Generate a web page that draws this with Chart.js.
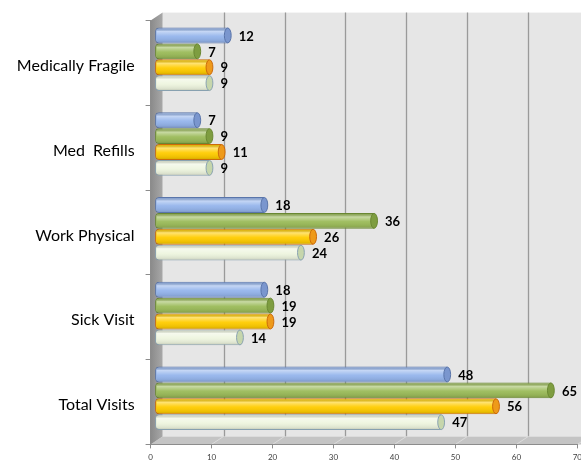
<!DOCTYPE html>
<html><head><meta charset="utf-8">
<script src="https://cdn.jsdelivr.net/npm/chart.js@4.4.1/dist/chart.umd.min.js"></script>
<style>
html,body{margin:0;padding:0;overflow:hidden;background:#fff;width:581px;height:465px}
#wrap{width:586px;height:465px;position:relative}
</style>
</head><body><div id="wrap"><canvas id="c" width="586" height="465"></canvas></div>
<script>
const categories = ['Medically Fragile', 'Med  Refills', 'Work Physical', 'Sick Visit', 'Total Visits'];
const seriesBlue  = [12, 7, 18, 18, 48];
const seriesGreen = [7, 9, 36, 19, 65];
const seriesGold  = [9, 11, 26, 19, 56];
const seriesPale  = [9, 9, 24, 14, 47];
const xTickValues = [0, 10, 20, 30, 40, 50, 60, 70];

const DX = 12, DY = 8;      // 3D depth of walls
const SX = 4, SY = -3.7;    // bars sit mid-depth

const styles = [
  {fill:'#95B5EC', border:'#5A75AA', cap:'#7A96CE'},
  {fill:'#9BBB59', border:'#6A8832', cap:'#7E9D40'},
  {fill:'#FFCC00', border:'#CC6A0A', cap:'#EE9A1A'},
  {fill:'#EEF5DF', border:'#8AA3B2', cap:'#C6D6AC'}
];

const walls = {
  id: 'walls',
  beforeDraw(chart) {
    const {ctx, chartArea: a, scales: {x}} = chart;
    const W = chart.width;
    ctx.save();
    ctx.fillStyle = '#e6e6e6';
    ctx.fillRect(a.left + DX, a.top - DY, W - (a.left + DX), a.bottom - a.top);
    ctx.strokeStyle = '#9a9a9a';
    ctx.lineWidth = 1.3;
    xTickValues.forEach(v => {
      if (v === 0) return;
      const px = Math.round(x.getPixelForValue(v) + DX) + 0.5;
      ctx.beginPath(); ctx.moveTo(px, a.top - DY); ctx.lineTo(px, a.bottom - DY); ctx.stroke();
    });
    ctx.fillStyle = '#c4c4c4';
    ctx.beginPath();
    ctx.moveTo(a.left, a.bottom); ctx.lineTo(a.left + DX, a.bottom - DY);
    ctx.lineTo(W, a.bottom - DY); ctx.lineTo(W, a.bottom); ctx.closePath(); ctx.fill();
    ctx.strokeStyle = '#dcdcdc'; ctx.lineWidth = 1;
    xTickValues.forEach(v => {
      if (v === 0) return;
      const px = x.getPixelForValue(v);
      ctx.beginPath(); ctx.moveTo(px, a.bottom); ctx.lineTo(px + DX, a.bottom - DY); ctx.stroke();
    });
    const g = ctx.createLinearGradient(a.left, 0, a.left + DX, 0);
    g.addColorStop(0, '#8a8a8a'); g.addColorStop(1, '#a8a8a8');
    ctx.fillStyle = g;
    ctx.beginPath();
    ctx.moveTo(a.left, a.top); ctx.lineTo(a.left + DX, a.top - DY);
    ctx.lineTo(a.left + DX, a.bottom - DY); ctx.lineTo(a.left, a.bottom); ctx.closePath(); ctx.fill();
    ctx.restore();
  }
};

const cylinders = {
  id: 'cylinders',
  beforeDatasetsDraw(chart) { chart.ctx.save(); chart.ctx.translate(SX, SY); },
  afterDatasetsDraw(chart) {
    const ctx = chart.ctx;
    chart.data.datasets.forEach((ds, di) => {
      const meta = chart.getDatasetMeta(di);
      const st = styles[di];
      meta.data.forEach((el, i) => {
        const left = Math.min(el.base, el.x), right = Math.max(el.base, el.x);
        const h = el.height, top = el.y - h / 2;
        const g = ctx.createLinearGradient(0, top, 0, top + h);
        g.addColorStop(0, 'rgba(0,0,0,0.06)');
        g.addColorStop(0.25, 'rgba(255,255,255,0.45)');
        g.addColorStop(0.55, 'rgba(255,255,255,0.05)');
        g.addColorStop(0.85, 'rgba(0,0,0,0.08)');
        g.addColorStop(1, 'rgba(0,0,0,0.22)');
        ctx.fillStyle = g;
        ctx.fillRect(left + 1.5, top + 1, right - left - 2, h - 2);
        ctx.beginPath();
        ctx.ellipse(right, el.y, 3.4, h / 2 - 0.5, 0, 0, Math.PI * 2);
        ctx.fillStyle = st.cap; ctx.fill();
        ctx.strokeStyle = st.border; ctx.lineWidth = 1; ctx.stroke();
        ctx.fillStyle = '#000';
        ctx.font = 'bold 13px Lato, "DejaVu Sans", sans-serif';
        ctx.textAlign = 'left'; ctx.textBaseline = 'middle';
        ctx.fillText(String(ds.data[i]), right + 11, el.y + 1);
      });
    });
    ctx.restore();
  }
};

const allSeries = [seriesBlue, seriesGreen, seriesGold, seriesPale];
const names = ['Series 1', 'Series 2', 'Series 3', 'Series 4'];

new Chart(document.getElementById('c'), {
  type: 'bar',
  data: {
    labels: categories,
    datasets: allSeries.map((d, i) => ({
      label: names[i],
      data: d,
      backgroundColor: styles[i].fill,
      borderColor: styles[i].border,
      borderWidth: 1,
      borderSkipped: false,
      borderRadius: {topLeft: 4, bottomLeft: 4, topRight: 0, bottomRight: 0},
      categoryPercentage: 0.75,
      barPercentage: 1.0,
      clip: false
    }))
  },
  options: {
    indexAxis: 'y',
    responsive: false,
    animation: false,
    events: [],
    layout: {padding: {top: 19, right: 3, left: 0, bottom: 0}},
    plugins: {legend: {display: false}, tooltip: {enabled: false}, title: {display: false}},
    scales: {
      y: {
        offset: true,
        grid: {display: true, drawOnChartArea: false, drawTicks: true, tickLength: 5, color: '#8c8c8c', offset: true},
        border: {display: true, color: '#8c8c8c'},
        ticks: {font: {family: 'Lato', size: 16}, color: '#000', padding: 11, labelOffset: 3},
        afterFit(s) { s.width = 150.6; }
      },
      x: {
        min: 0, max: 70,
        afterBuildTicks(s) { s.ticks = xTickValues.map(v => ({value: v})); },
        ticks: {font: {family: 'Lato', size: 8}, color: '#404040', padding: 4, maxRotation: 0, autoSkip: false},
        grid: {display: true, drawOnChartArea: false, drawTicks: true, tickLength: 4, color: '#8c8c8c'},
        border: {display: true, color: '#8c8c8c'},
        afterFit(s) { s.height = 20; }
      }
    }
  },
  plugins: [walls, cylinders]
});
</script>
</body></html>
